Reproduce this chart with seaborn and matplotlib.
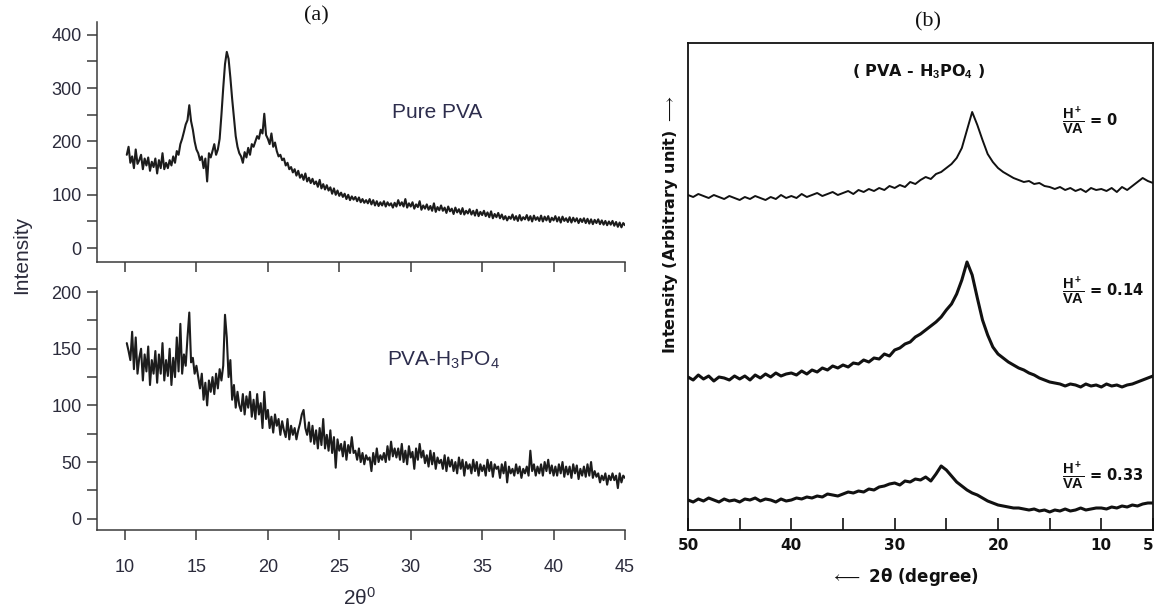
import numpy as np
import pandas as pd
import matplotlib
matplotlib.use("Agg")
import matplotlib.pyplot as plt
from matplotlib.ticker import MultipleLocator, FixedLocator
import seaborn as sns

# ---------------- data : panel (a) ----------------
two_theta_a = np.round(np.arange(10.125, 45.001, 0.125), 3)   # sampling grid, 2theta (deg)

pure_pva = [
    175, 190, 160, 172, 150, 185, 158, 165,
    175, 148, 168, 155, 170, 145, 162, 152,
    168, 140, 165, 150, 178, 148, 160, 150,
    165, 155, 172, 160, 182, 175, 195, 205,
    218, 232, 240, 268, 238, 222, 200, 185,
    178, 165, 172, 150, 168, 125, 178, 170,
    182, 195, 175, 185, 205, 250, 300, 345,
    368, 355, 320, 280, 245, 210, 190, 178,
    172, 160, 180, 170, 188, 175, 195, 190,
    200, 210, 205, 222, 215, 252, 212, 205,
    195, 215, 190, 198, 182, 172, 175, 165,
    168, 155, 160, 148, 152, 142, 148, 136,
    145, 132, 138, 128, 140, 125, 132, 122,
    130, 120, 125, 115, 128, 112, 120, 110,
    118, 108, 114, 102, 112, 100, 108, 98,
    104, 96, 102, 92, 100, 90, 97, 91,
    96, 88, 95, 86, 92, 85, 90, 84,
    92, 82, 90, 80, 88, 79, 86, 80,
    88, 78, 86, 80, 84, 76, 85, 78,
    90, 80, 86, 78, 92, 76, 84, 78,
    86, 74, 82, 77, 88, 72, 80, 74,
    82, 72, 79, 70, 84, 68, 77, 71,
    80, 70, 76, 66, 78, 69, 74, 64,
    76, 67, 73, 64, 75, 63, 70, 65,
    73, 63, 70, 61, 72, 60, 68, 62,
    70, 60, 67, 58, 69, 56, 64, 58,
    66, 56, 63, 54, 60, 52, 59, 55,
    63, 53, 60, 51, 62, 52, 58, 54,
    62, 52, 60, 50, 61, 53, 58, 51,
    61, 50, 59, 52, 60, 49, 57, 52,
    60, 50, 58, 48, 59, 51, 56, 49,
    58, 48, 57, 50, 56, 47, 55, 49,
    56, 47, 55, 46, 54, 45, 53, 47,
    54, 45, 52, 44, 51, 43, 50, 44,
    51, 42, 49, 40, 48, 39, 47, 43,
]

pva_h3po4 = [
    155, 148, 140, 165, 132, 160, 128, 142,
    150, 122, 145, 130, 152, 118, 140, 128,
    148, 120, 145, 128, 155, 122, 140, 126,
    150, 118, 142, 125, 160, 130, 172, 128,
    145, 135, 160, 182, 138, 142, 128, 135,
    125, 115, 128, 105, 120, 100, 122, 112,
    125, 110, 128, 115, 132, 122, 135, 180,
    160, 125, 140, 105, 118, 98, 112, 100,
    95, 110, 92, 108, 98, 112, 90, 105,
    88, 110, 92, 102, 80, 112, 88, 96,
    80, 90, 76, 92, 82, 88, 74, 86,
    78, 72, 88, 70, 82, 74, 80, 70,
    78, 84, 92, 96, 80, 74, 85, 68,
    82, 66, 78, 62, 80, 65, 88, 62,
    74, 60, 78, 58, 72, 45, 70, 60,
    66, 55, 68, 52, 65, 58, 72, 58,
    60, 52, 62, 50, 58, 48, 56, 52,
    54, 42, 58, 48, 62, 50, 56, 52,
    58, 50, 64, 52, 68, 55, 62, 54,
    62, 52, 66, 50, 60, 48, 64, 54,
    59, 44, 62, 52, 66, 54, 60, 49,
    56, 46, 60, 48, 58, 44, 54, 49,
    52, 44, 56, 42, 54, 46, 52, 42,
    50, 40, 54, 44, 52, 38, 50, 44,
    48, 40, 52, 42, 50, 38, 48, 42,
    47, 38, 52, 42, 50, 37, 48, 44,
    46, 36, 48, 40, 50, 32, 46, 40,
    44, 38, 48, 40, 46, 36, 44, 40,
    46, 38, 60, 42, 48, 38, 46, 40,
    48, 38, 50, 42, 52, 40, 47, 38,
    46, 38, 48, 40, 50, 37, 46, 39,
    46, 36, 48, 40, 47, 35, 44, 38,
    46, 37, 48, 38, 50, 36, 42, 37,
    40, 32, 38, 34, 40, 30, 38, 34,
    40, 34, 38, 27, 40, 32, 38, 36,
]

# ---------------- data : panel (b) ----------------
two_theta_b = np.round(np.arange(50.0, 4.99, -0.5), 1)    # 50 -> 5 deg

ratio_0 = [
    335, 333, 336, 334, 332, 335, 333, 331, 334, 332,
    330, 333, 331, 334, 332, 330, 333, 331, 335, 332,
    334, 332, 336, 333, 335, 337, 334, 336, 338, 335,
    337, 339, 336, 340, 338, 341, 339, 342, 340, 344,
    342, 345, 343, 348, 346, 350, 353, 351, 356, 358,
    362, 366, 372, 382, 400, 418, 405, 390, 376, 368,
    362, 358, 355, 352, 350, 348, 349, 346, 347, 344,
    343, 341, 343, 340, 342, 339, 341, 338, 342, 340,
    341, 339, 342, 338, 343, 340, 344, 348, 352, 349,
    347,
]

ratio_014 = [
    153, 150, 155, 151, 154, 149, 153, 152, 150, 154,
    151, 154, 150, 155, 152, 156, 153, 157, 154, 156,
    157, 155, 159, 156, 160, 158, 162, 160, 164, 162,
    165, 163, 167, 166, 170, 168, 172, 171, 176, 174,
    180, 182, 186, 188, 193, 196, 200, 204, 208, 213,
    220, 226, 236, 250, 268, 255, 232, 210, 195, 183,
    176, 172, 168, 165, 162, 160, 157, 155, 152, 150,
    148, 147, 146, 144, 146, 145, 143, 146, 144, 145,
    143, 146, 144, 145, 143, 145, 146, 148, 150, 152,
    154,
]

ratio_033 = [
    30, 28, 31, 29, 32, 30, 28, 31, 29, 30,
    28, 31, 30, 32, 29, 31, 30, 28, 31, 29,
    30, 32, 31, 33, 32, 34, 33, 36, 35, 34,
    36, 38, 37, 39, 38, 41, 40, 43, 44, 46,
    47, 45, 49, 48, 51, 50, 53, 49, 56, 64,
    60, 54, 48, 44, 40, 37, 35, 32, 29, 27,
    25, 24, 23, 22, 22, 21, 20, 21, 19, 20,
    18, 20, 19, 21, 19, 20, 22, 20, 21, 22,
    22, 21, 23, 22, 24, 23, 25, 24, 26, 27,
    27,
]

ticks_a = [10, 15, 20, 25, 30, 35, 40, 45]
ticks_b = [50, 40, 30, 20, 10, 5]
minor_b = [45, 35, 25, 15]

# ---------------- style ----------------
sns.set_theme(style="ticks")
plt.rcParams['font.family'] = ['Liberation Sans', 'DejaVu Sans']
plt.rcParams['mathtext.fontset'] = 'custom'
plt.rcParams['mathtext.rm'] = 'Liberation Sans'
plt.rcParams['mathtext.it'] = 'Liberation Sans:italic'
plt.rcParams['mathtext.bf'] = 'Liberation Sans:bold'

W, H = 1155, 611
fig = plt.figure(figsize=(W / 100, H / 100), dpi=100)


def box(l, t, r, b):
    return [l / W, 1 - b / H, (r - l) / W, (b - t) / H]


ax1 = fig.add_axes(box(97, 22, 625, 262))
ax2 = fig.add_axes(box(97, 291, 625, 530))
ax3 = fig.add_axes(box(688, 43, 1153, 530))

spine_c = '#3a3a3a'
lab_c = '#2b2b3b'
line_c = '#1c1c1c'

df_a = pd.DataFrame({'two_theta': two_theta_a, 'pure': pure_pva, 'acid': pva_h3po4})
sns.lineplot(data=df_a, x='two_theta', y='pure', ax=ax1, color=line_c, lw=1.5)
sns.lineplot(data=df_a, x='two_theta', y='acid', ax=ax2, color=line_c, lw=1.5)

for ax in (ax1, ax2):
    ax.set_xlim(8.04, 45)
    ax.spines['top'].set_visible(False)
    ax.spines['right'].set_visible(False)
    for s in ('left', 'bottom'):
        ax.spines[s].set_color(spine_c)
        ax.spines[s].set_linewidth(1.1)
    ax.set_xticks(ticks_a)
    ax.tick_params(which='both', direction='out', length=7, width=1.1,
                   color=spine_c, labelcolor=lab_c, labelsize=13, pad=4)
    ax.set_xlabel('')
    ax.set_ylabel('')

ax1.set_ylim(-26, 424)
ax1.set_yticks([0, 100, 200, 300, 400])
ax1.yaxis.set_minor_locator(MultipleLocator(50))
ax1.set_xticklabels([])

ax2.set_ylim(-10, 201)
ax2.set_yticks([0, 50, 100, 150, 200])
ax2.yaxis.set_minor_locator(MultipleLocator(25))
ax2.set_xticklabels([str(t) for t in ticks_a])
ax2.tick_params(axis='x', pad=14)

fig.text(22 / W, 1 - 255 / H, 'Intensity', rotation=90, ha='center', va='center',
         fontsize=15, color=lab_c)
fig.text(360 / W, 1 - 598 / H, '2θ$^0$', ha='center', va='center', fontsize=15, color=lab_c)
fig.text(316 / W, 1 - 16 / H, '(a)', ha='center', va='center', fontsize=16,
         family='Liberation Serif', color='#111111')
fig.text(437 / W, 1 - 113 / H, 'Pure PVA', ha='center', va='center', fontsize=15, color='#2d2d4d')
fig.text(387 / W, 1 - 360 / H, 'PVA-H$_3$PO$_4$', ha='left', va='center', fontsize=15, color='#2d2d4d')

# ---------------- panel (b) ----------------
df_b = pd.DataFrame({'two_theta': two_theta_b, 'r0': ratio_0, 'r014': ratio_014, 'r033': ratio_033})
sns.lineplot(data=df_b, x='two_theta', y='r0', ax=ax3, color='#111111', lw=1.4)
sns.lineplot(data=df_b, x='two_theta', y='r014', ax=ax3, color='#111111', lw=2.2)
sns.lineplot(data=df_b, x='two_theta', y='r033', ax=ax3, color='#111111', lw=2.2)

ax3.set_xlim(50, 5)
ax3.set_ylim(0, 487)
ax3.set_yticks([])
ax3.set_xticks(ticks_b)
ax3.set_xticklabels([str(t) for t in ticks_b], fontweight='bold', family='DejaVu Sans')
ax3.get_xticklabels()[-1].set_horizontalalignment('right')
ax3.xaxis.set_minor_locator(FixedLocator(minor_b))
ax3.tick_params(axis='x', which='both', direction='in', length=9, width=1.2,
                color='#111111', labelcolor='#111111', labelsize=11, pad=6)
ax3.set_xlabel('')
ax3.set_ylabel('')
for s in ax3.spines.values():
    s.set_color('#111111')
    s.set_linewidth(1.3)

fig.text(928 / W, 1 - 22 / H, '(b)', ha='center', va='center', fontsize=16,
         family='Liberation Serif', color='#111111')
fig.text(918 / W, 1 - 72 / H, '( PVA - H$_\\mathbf{3}$PO$_\\mathbf{4}$ )', ha='center', va='center',
         fontsize=11.5, fontweight='bold', family='DejaVu Sans', color='#111111')

frac = r'$\dfrac{\mathbf{H^+}}{\mathbf{VA}}$'
for lbl, yy in ((' = 0', 120), (' = 0.14', 290), (' = 0.33', 475)):
    fig.text(1062 / W, 1 - yy / H, frac + lbl, ha='left', va='center', fontsize=10.5,
             fontweight='bold', family='DejaVu Sans', color='#111111')

fig.text(670 / W, 1 - 225 / H, r'Intensity (Arbitrary unit) $\longrightarrow$', rotation=90,
         ha='center', va='center', fontsize=11.5, fontweight='bold', family='DejaVu Sans',
         color='#111111')
fig.text(905 / W, 1 - 577 / H, r'$\longleftarrow$ 2θ (degree)', ha='center', va='center',
         fontsize=12, fontweight='bold', family='DejaVu Sans', color='#111111')

fig.savefig('out.png', dpi=100)
